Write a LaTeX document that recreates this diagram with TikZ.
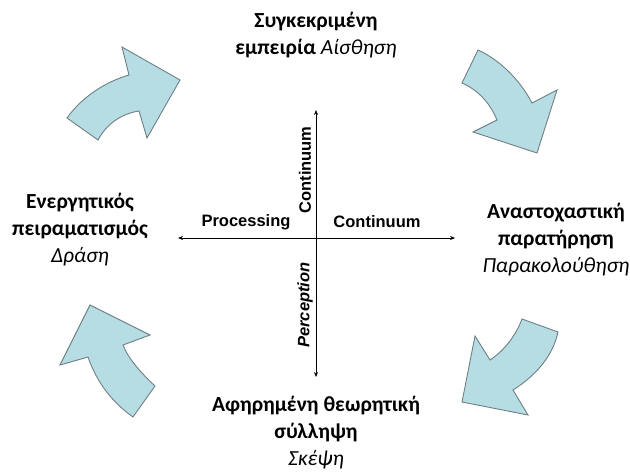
\documentclass[tikz,border=0pt]{standalone}
\usepackage{fontspec}
\setmainfont{Carlito}
\newfontfamily\axisfont{Liberation Sans}
\usetikzlibrary{arrows.meta}

\definecolor{arrowfill}{RGB}{182,221,227}
\definecolor{arrowedge}{RGB}{110,128,132}

\tikzset{
  cyclearrow/.style={fill=arrowfill, draw=arrowedge, line width=0.9bp, line join=miter},
  stage/.style={align=center, inner sep=0pt, font=\fontsize{21.5bp}{27bp}\selectfont},
  axislabel/.style={inner sep=0pt, font=\axisfont\bfseries\fontsize{16.5bp}{18bp}\selectfont},
  axisline/.style={line width=0.7bp, {Stealth[length=5bp,width=4bp]}-{Stealth[length=5bp,width=4bp]}}
}

\begin{document}
\begin{tikzpicture}[x=1bp, y=-1bp]
\useasboundingbox (0,0) rectangle (630,473);

% four curved block arrows around the cycle
\draw[cyclearrow] (67,118) .. controls (82,97) and (105,82) .. (129,75)
  -- (122,47) -- (180,80) -- (147,138) -- (139,111)
  .. controls (120,114) and (106,125) .. (98,140) -- cycle;
\draw[cyclearrow] (478,50) .. controls (500,60) and (520,80) .. (532,103)
  -- (557,90) -- (537,153) -- (473,132) -- (497,120)
  .. controls (490,103) and (478,90) .. (462,83) -- cycle;
\draw[cyclearrow] (558,332) .. controls (553,355) and (537,375) .. (513,390)
  -- (528,415) -- (462,402) -- (475,336) -- (490,360)
  .. controls (505,350) and (516,335) .. (522,319) -- cycle;
\draw[cyclearrow] (155,386) .. controls (140,372) and (128,358) .. (123,345)
  -- (150,335) -- (90,305) -- (60,365) -- (88,357)
  .. controls (97,383) and (113,403) .. (133,417) -- cycle;

% axes
\coordinate (west) at (178,238);
\coordinate (east) at (455,238);
\coordinate (north) at (316,110);
\coordinate (south) at (316,377);
\draw[axisline] (west) -- (east);
\draw[axisline] (north) -- (south);

\node[axislabel] (proc) at (246,222) {Processing};
\node[axislabel] (contH) at (377,222) {Continuum};
\node[axislabel, rotate=90] (contV) at (305,170) {Continuum};
\node[axislabel, rotate=90] (perc) at (305,305) {\itshape Perception};

% stage labels
\node[stage] (concrete) at (316,35) {\textbf{Συγκεκριμένη}\\\textbf{εμπειρία} \textit{Αίσθηση}};
\node[stage] (reflect) at (556,240) {\textbf{Αναστοχαστική}\\\textbf{παρατήρηση}\\\textit{Παρακολούθηση}};
\node[stage] (abstract) at (316,433) {\textbf{Αφηρημένη θεωρητική}\\\textbf{σύλληψη}\\\textit{Σκέψη}};
\node[stage] (active) at (80,230) {\textbf{Ενεργητικός}\\\textbf{πειραματισμός}\\\textit{Δράση}};
\end{tikzpicture}
\end{document}
